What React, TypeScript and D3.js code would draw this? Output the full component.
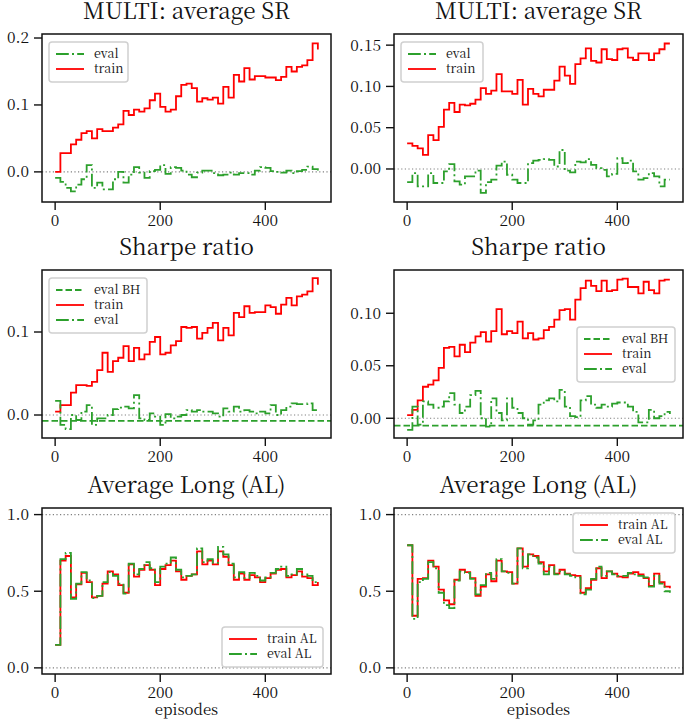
import React from 'react';
import * as d3 from 'd3';

// x positions of the logged points (every 10 episodes)
const episodes = d3.range(0, 501, 10);

// row 1: MULTI average SR
const srTrainLeft = [0, 0.028, 0.028, 0.041, 0.048, 0.058, 0.061, 0.05, 0.064, 0.061, 0.061, 0.066, 0.071, 0.091, 0.085, 0.093, 0.09, 0.095, 0.107, 0.117, 0.097, 0.09, 0.093, 0.113, 0.13, 0.132, 0.125, 0.105, 0.11, 0.108, 0.111, 0.102, 0.127, 0.111, 0.145, 0.135, 0.155, 0.138, 0.143, 0.143, 0.141, 0.141, 0.137, 0.142, 0.157, 0.15, 0.157, 0.159, 0.167, 0.192, 0.183];
const srEvalLeft = [-0.009, -0.015, -0.024, -0.029, -0.019, -0.011, 0.01, -0.024, -0.016, -0.026, -0.026, -0.011, 0.0, -0.016, -0.004, 0.007, -0.001, -0.009, 0.001, 0.003, 0.01, -0.003, 0.007, 0.006, 0.002, -0.004, -0.008, -0.001, 0.002, 0.002, -0.002, -0.005, -0.004, -0.001, -0.004, -0.002, -0.002, -0.004, 0.002, 0.007, 0.006, 0.001, 0.0, -0.001, 0.002, -0.002, 0.001, 0.003, 0.008, 0.004, 0.002];
const srTrainRight = [0.031, 0.028, 0.025, 0.017, 0.041, 0.035, 0.051, 0.072, 0.08, 0.069, 0.078, 0.077, 0.079, 0.084, 0.098, 0.091, 0.095, 0.115, 0.094, 0.094, 0.091, 0.108, 0.078, 0.097, 0.091, 0.088, 0.096, 0.096, 0.107, 0.124, 0.113, 0.103, 0.127, 0.134, 0.146, 0.131, 0.129, 0.145, 0.133, 0.132, 0.145, 0.146, 0.135, 0.132, 0.14, 0.14, 0.132, 0.14, 0.145, 0.152, 0.152];
const srEvalRight = [-0.016, -0.005, -0.021, -0.021, -0.005, -0.017, -0.017, -0.003, 0.006, -0.015, -0.019, -0.009, -0.009, -0.002, -0.029, -0.016, -0.013, 0.004, 0.009, -0.007, -0.013, -0.017, -0.017, 0.007, 0.01, 0.011, 0.012, 0.011, 0.003, 0.023, -0.002, -0.004, 0.009, 0.008, 0.012, 0.005, 0.001, -0.001, -0.009, -0.006, 0.013, 0.007, 0.01, -0.003, -0.013, -0.011, -0.005, -0.009, -0.021, -0.013, -0.013];

// row 2: Sharpe ratio
const shTrainLeft = [0.004, 0.012, 0.012, 0.027, 0.036, 0.036, 0.035, 0.04, 0.054, 0.075, 0.052, 0.065, 0.069, 0.083, 0.065, 0.081, 0.067, 0.073, 0.088, 0.094, 0.073, 0.075, 0.084, 0.089, 0.106, 0.105, 0.106, 0.092, 0.099, 0.105, 0.111, 0.09, 0.105, 0.096, 0.123, 0.118, 0.131, 0.123, 0.124, 0.124, 0.132, 0.13, 0.122, 0.133, 0.141, 0.132, 0.143, 0.145, 0.149, 0.165, 0.157];
const shEvalLeft = [0.017, -0.012, -0.017, 0.0, -0.006, 0.004, 0.012, -0.012, -0.004, -0.004, 0.0, 0.007, 0.009, 0.01, 0.008, 0.024, -0.004, -0.006, 0.002, -0.002, -0.012, 0.001, -0.004, -0.002, 0.0, 0.006, 0.004, 0.006, 0.004, 0.004, 0.002, -0.002, 0.008, 0.004, 0.01, 0.004, 0.006, 0.004, 0.002, 0.004, 0.002, 0.012, 0.0, 0.006, 0.01, 0.014, 0.013, 0.013, 0.014, 0.006, 0.004];
const shTrainRight = [0.003, 0.008, 0.017, 0.03, 0.032, 0.036, 0.048, 0.067, 0.068, 0.059, 0.07, 0.063, 0.072, 0.078, 0.082, 0.073, 0.083, 0.104, 0.08, 0.083, 0.081, 0.092, 0.076, 0.081, 0.075, 0.076, 0.084, 0.087, 0.094, 0.103, 0.104, 0.094, 0.113, 0.124, 0.131, 0.126, 0.121, 0.131, 0.121, 0.122, 0.132, 0.133, 0.125, 0.125, 0.119, 0.13, 0.122, 0.119, 0.131, 0.132, 0.132];
const shEvalRight = [-0.011, 0.011, -0.006, 0.016, 0.013, 0.01, 0.011, 0.016, 0.024, 0.013, 0.005, 0.011, 0.022, 0.026, 0.0, -0.008, 0.019, 0.005, -0.002, 0.019, 0.01, 0.005, 0.0, -0.006, -0.002, 0.013, 0.017, 0.019, 0.016, 0.027, 0.011, 0.002, 0.001, 0.017, 0.021, 0.013, 0.01, 0.013, 0.011, 0.014, 0.015, 0.015, 0.011, 0.006, -0.004, -0.004, 0.008, 0.0, 0.002, 0.006, 0.004];
const shEvalBH = [-0.007, -0.007];

// row 3: Average Long
const alTrainLeft = [0.15, 0.7, 0.73, 0.46, 0.545, 0.62, 0.56, 0.46, 0.47, 0.55, 0.63, 0.61, 0.54, 0.49, 0.675, 0.595, 0.64, 0.67, 0.64, 0.54, 0.645, 0.67, 0.7, 0.63, 0.575, 0.6, 0.61, 0.76, 0.675, 0.7, 0.675, 0.76, 0.725, 0.67, 0.575, 0.615, 0.575, 0.605, 0.59, 0.56, 0.585, 0.615, 0.64, 0.645, 0.59, 0.605, 0.63, 0.595, 0.585, 0.54, 0.56];
const alEvalLeft = [0.15, 0.71, 0.75, 0.45, 0.55, 0.625, 0.57, 0.455, 0.47, 0.56, 0.625, 0.6, 0.55, 0.485, 0.68, 0.61, 0.645, 0.69, 0.65, 0.56, 0.66, 0.68, 0.72, 0.64, 0.59, 0.6, 0.61, 0.78, 0.69, 0.71, 0.685, 0.79, 0.74, 0.68, 0.59, 0.625, 0.585, 0.62, 0.6, 0.57, 0.59, 0.62, 0.645, 0.66, 0.6, 0.61, 0.645, 0.61, 0.6, 0.56, 0.57];
const alTrainRight = [0.8, 0.34, 0.58, 0.585, 0.7, 0.66, 0.51, 0.44, 0.415, 0.575, 0.64, 0.625, 0.585, 0.47, 0.53, 0.61, 0.565, 0.7, 0.63, 0.625, 0.55, 0.78, 0.66, 0.74, 0.73, 0.69, 0.63, 0.67, 0.615, 0.64, 0.615, 0.605, 0.6, 0.49, 0.52, 0.575, 0.65, 0.585, 0.63, 0.615, 0.595, 0.59, 0.615, 0.625, 0.61, 0.585, 0.535, 0.615, 0.56, 0.53, 0.52];
const alEvalRight = [0.8, 0.32, 0.56, 0.58, 0.69, 0.65, 0.49, 0.41, 0.39, 0.57, 0.63, 0.62, 0.58, 0.48, 0.54, 0.62, 0.58, 0.71, 0.63, 0.62, 0.55, 0.78, 0.65, 0.74, 0.72, 0.68, 0.61, 0.66, 0.61, 0.63, 0.61, 0.6, 0.59, 0.48, 0.51, 0.58, 0.66, 0.6, 0.63, 0.61, 0.6, 0.6, 0.62, 0.61, 0.6, 0.59, 0.53, 0.6, 0.55, 0.5, 0.49];

const xTicks = [0, 200, 400];
const srTicksLeft = [0, 0.1, 0.2];
const srTicksRight = [0, 0.05, 0.1, 0.15];
const shTicksLeft = [0, 0.1];
const shTicksRight = [0, 0.05, 0.1];
const alTicks = [0, 0.5, 1];

const FONT = "'Noto Serif CJK SC'";
const RED = '#ff0000';
const GREEN = '#2ca02c';
const DASHDOT = '12.8,3.2,2,3.2';
const DASHED = '6.5,3';

const cols = [
  { x0: 42, x1: 331 },
  { x0: 394, x1: 683 },
];
const rows = [
  { y0: 34, y1: 202 },
  { y0: 270, y1: 438 },
  { y0: 508, y1: 674 },
];

const evalS = (v) => ({ values: v, color: GREEN, dash: DASHDOT, label: 'eval' });
const trainS = (v) => ({ values: v, color: RED, dash: null, label: 'train' });

const panels = [
  {
    col: 0, row: 0, title: 'MULTI: average SR', yDomain: [-0.045, 0.206], yTicks: srTicksLeft, fmt: d3.format('.1f'),
    refs: [0], bh: null, series: [evalS(srEvalLeft), trainS(srTrainLeft)],
    legend: { x: 49, y: 42, w: 79, items: [evalS(null), trainS(null)] },
  },
  {
    col: 1, row: 0, title: 'MULTI: average SR', yDomain: [-0.04, 0.1635], yTicks: srTicksRight, fmt: d3.format('.2f'),
    refs: [0], bh: null, series: [evalS(srEvalRight), trainS(srTrainRight)],
    legend: { x: 401, y: 42, w: 82, items: [evalS(null), trainS(null)] },
  },
  {
    col: 0, row: 1, title: 'Sharpe ratio', yDomain: [-0.0277, 0.1747], yTicks: shTicksLeft, fmt: d3.format('.1f'),
    refs: [0], bh: shEvalBH[0], series: [trainS(shTrainLeft), evalS(shEvalLeft)],
    legend: { x: 49, y: 278, w: 98, items: [{ color: GREEN, dash: DASHED, label: 'eval BH' }, trainS(null), evalS(null)] },
  },
  {
    col: 1, row: 1, title: 'Sharpe ratio', yDomain: [-0.0188, 0.1412], yTicks: shTicksRight, fmt: d3.format('.2f'),
    refs: [0], bh: shEvalBH[1], series: [trainS(shTrainRight), evalS(shEvalRight)],
    legend: { x: 577, y: 327, w: 98, items: [{ color: GREEN, dash: DASHED, label: 'eval BH' }, trainS(null), evalS(null)] },
  },
  {
    col: 0, row: 2, title: 'Average Long (AL)', yDomain: [-0.04, 1.043], yTicks: alTicks, fmt: d3.format('.1f'),
    refs: [0, 1], bh: null,
    series: [{ values: alTrainLeft, color: RED, dash: null, label: 'train AL' }, { values: alEvalLeft, color: GREEN, dash: DASHDOT, label: 'eval AL' }],
    legend: { x: 222, y: 627, w: 101, items: [{ color: RED, dash: null, label: 'train AL' }, { color: GREEN, dash: DASHDOT, label: 'eval AL' }] },
  },
  {
    col: 1, row: 2, title: 'Average Long (AL)', yDomain: [-0.04, 1.043], yTicks: alTicks, fmt: d3.format('.1f'),
    refs: [0, 1], bh: null,
    series: [{ values: alTrainRight, color: RED, dash: null, label: 'train AL' }, { values: alEvalRight, color: GREEN, dash: DASHDOT, label: 'eval AL' }],
    legend: { x: 573, y: 513, w: 102, items: [{ color: RED, dash: null, label: 'train AL' }, { color: GREEN, dash: DASHDOT, label: 'eval AL' }] },
  },
];

const txt = (size) => ({ fontFamily: FONT, fontSize: size + 'px' });

function Panel({ p }) {
  const { x0, x1 } = cols[p.col];
  const { y0, y1 } = rows[p.row];
  const x = d3.scaleLinear().domain([-25, 525]).range([x0, x1]);
  const y = d3.scaleLinear().domain(p.yDomain).range([y1, y0]);
  const line = d3
    .line<number>()
    .x((_, i) => x(episodes[i]))
    .y((d) => y(d))
    .curve(d3.curveStepAfter);
  const lg = p.legend;
  const lgH = lg.items.length * 15 + 10;
  return (
    <g>
      <text x={(x0 + x1) / 2} y={y0 - 15} textAnchor="middle" style={txt(22.5)} fill="#111">
        {p.title}
      </text>
      {p.refs.map((r) => (
        <line key={r} x1={x0} x2={x1} y1={y(r)} y2={y(r)} stroke="#808080" strokeWidth={1.2} strokeDasharray="1.2,2.4" />
      ))}
      {p.bh !== null && (
        <line x1={x0} x2={x1} y1={y(p.bh)} y2={y(p.bh)} stroke={GREEN} strokeWidth={1.8} strokeDasharray={DASHED} />
      )}
      {p.series.map((s, i) => (
        <path key={i} d={line(s.values) || ''} fill="none" stroke={s.color} strokeWidth={1.8} strokeDasharray={s.dash || undefined} />
      ))}
      <rect x={x0} y={y0} width={x1 - x0} height={y1 - y0} fill="none" stroke="#111" strokeWidth={1.5} />
      {xTicks.map((t) => (
        <g key={t}>
          <line x1={x(t)} x2={x(t)} y1={y1} y2={y1 + 8} stroke="#111" strokeWidth={1.4} />
          <text x={x(t)} y={y1 + 24} textAnchor="middle" style={txt(15.5)} fill="#111">
            {t}
          </text>
        </g>
      ))}
      {p.yTicks.map((t) => (
        <g key={t}>
          <line x1={x0 - 8} x2={x0} y1={y(t)} y2={y(t)} stroke="#111" strokeWidth={1.4} />
          <text x={x0 - 13} y={y(t)} dy="0.35em" textAnchor="end" style={txt(15.5)} fill="#111">
            {p.fmt(t)}
          </text>
        </g>
      ))}
      <rect x={lg.x} y={lg.y} width={lg.w} height={lgH} rx={3} fill="#fff" fillOpacity={0.8} stroke="#d0d0d0" strokeWidth={1.5} />
      {lg.items.map((it, i) => {
        const ry = lg.y + 12 + i * 15;
        return (
          <g key={i}>
            <line x1={lg.x + 7} x2={lg.x + 35} y1={ry} y2={ry} stroke={it.color} strokeWidth={1.8} strokeDasharray={it.dash || undefined} />
            <text x={lg.x + 45} y={ry} dy="0.35em" style={txt(12.5)} fill="#111">
              {it.label}
            </text>
          </g>
        );
      })}
      {p.row === 2 && (
        <text x={(x0 + x1) / 2} y={715} textAnchor="middle" style={txt(15)} fill="#111">
          episodes
        </text>
      )}
    </g>
  );
}

export default function App() {
  return (
    <svg width={685} height={724} style={{ position: 'absolute', left: 0, top: 0, background: '#fff' }} xmlns="http://www.w3.org/2000/svg">
      <rect width={685} height={724} fill="#fff" />
      {panels.map((p, i) => (
        <Panel key={i} p={p} />
      ))}
    </svg>
  );
}
